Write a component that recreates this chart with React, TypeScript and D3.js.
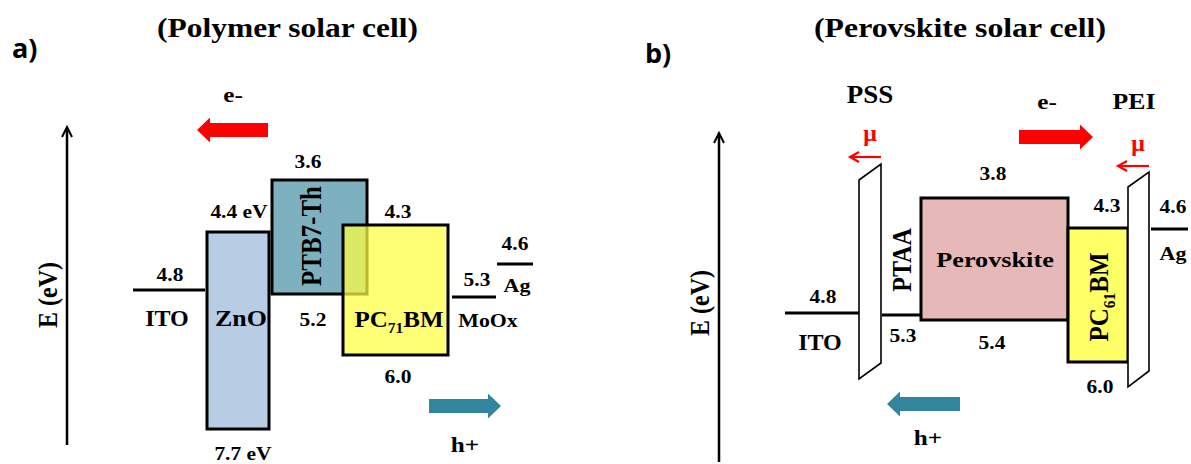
import * as d3 from "d3";

// ---- data: panel a (polymer solar cell) ----
const polyNames = ["ITO", "ZnO", "PTB7-Th", "PC71BM", "MoOx", "Ag"];
const polyUpper = [4.8, 4.4, 3.6, 4.3, 5.3, 4.6];
const polyLower = [NaN, 7.7, 5.2, 6.0, NaN, NaN];
const polyUpperLabels = ["4.8", "4.4 eV", "3.6", "4.3", "5.3", "4.6"];
const polyLowerLabels = ["", "7.7 eV", "5.2", "6.0", "", ""];

// ---- data: panel b (perovskite solar cell) ----
const perovNames = ["ITO", "PTAA", "Perovskite", "PC61BM", "Ag"];
const perovUpper = [4.8, 5.3, 3.8, 4.3, 4.6];
const perovLower = [NaN, NaN, 5.4, 6.0, NaN];
const perovUpperLabels = ["4.8", "", "3.8", "4.3", "4.6"];
const perovLowerLabels = ["", "5.3", "5.4", "6.0", ""];
const interlayers = ["PSS", "PEI"];

const W = 1191;
const H = 464;
const SERIF = "'Liberation Serif', 'Times New Roman', serif";
const SANS = "'Open Sans', 'Noto Sans', sans-serif";
const RED = "#ff0000";
const TEAL = "#31859c";

// schematic (not to scale) energy axes
const yA = d3
  .scaleLinear()
  .domain([3.6, 4.3, 4.4, 4.6, 4.8, 5.2, 5.3, 6.0, 7.7])
  .range([180, 225, 232, 264, 290, 294, 297, 355, 429]);
const yB = d3
  .scaleLinear()
  .domain([3.8, 4.3, 4.6, 4.8, 5.3, 5.4, 6.0])
  .range([198, 228, 229, 313, 315, 320, 362]);

type Lay = {
  x0: number;
  x1: number;
  fill?: string;
  op?: number;
  upX: number;
  upDy: number;
  loX?: number;
  loDy?: number;
  nx: number;
  ny: number;
  ns: number;
  nsx?: number;
  rot?: boolean;
};

const polyLayout: Lay[] = [
  { x0: 133, x1: 205, upX: 170, upDy: -9, nx: 167, ny: 326, ns: 24 },
  { x0: 207, x1: 269, fill: "#b8cce4", upX: 239, upDy: -14, loX: 243, loDy: 31, nx: 241, ny: 326, ns: 24, nsx: 1.08 },
  { x0: 272, x1: 367, fill: "#7eb1c0", upX: 308, upDy: -12, loX: 313, loDy: 32, nx: 321, ny: 236, ns: 25, nsx: 1.15, rot: true },
  { x0: 343, x1: 448, fill: "#ffff40", op: 0.72, upX: 398, upDy: -7, loX: 398, loDy: 28, nx: 399, ny: 327, ns: 24, nsx: 1.04 },
  { x0: 452, x1: 496, upX: 477, upDy: -11, nx: 488, ny: 327, ns: 19, nsx: 1.15 },
  { x0: 497, x1: 533, upX: 515, upDy: -14, nx: 517, ny: 292, ns: 18, nsx: 1.22 },
];

const perovLayout: Lay[] = [
  { x0: 785, x1: 859, upX: 823, upDy: -10, nx: 820, ny: 350, ns: 24 },
  { x0: 882, x1: 922, upX: 0, upDy: 0, loX: 903, loDy: 27, nx: 911, ny: 260, ns: 24, nsx: 1.15, rot: true },
  { x0: 921, x1: 1068, fill: "#e6b9b8", upX: 993, upDy: -18, loX: 992, loDy: 29, nx: 995, ny: 267, ns: 21, nsx: 1.25 },
  { x0: 1068, x1: 1128, fill: "#ffff66", upX: 1107, upDy: -16, loX: 1100, loDy: 31, nx: 1108, ny: 297, ns: 25, nsx: 1.12, rot: true },
  { x0: 1151, x1: 1188, upX: 1173, upDy: -16, nx: 1173, ny: 260, ns: 18, nsx: 1.22 },
];

// interlayer slabs (PSS, PEI): left/right x, top-left, top-right, bottom-left, bottom-right y
const slabs = [
  { xl: 859, xr: 881, tl: 180, tr: 164, bl: 379, br: 363, lx: 870, ly: 103, ls: 25, lsx: 1.08, mx: 870, my: 141, ax0: 881, ax1: 850, ay: 157 },
  { xl: 1128, xr: 1149, tl: 187, tr: 172, bl: 387, br: 371, lx: 1134, ly: 109, ls: 23, lsx: 1.12, mx: 1138, my: 151, ax0: 1149, ax1: 1118, ay: 166 },
];

const chargeArrows = [
  { tail: 268, tip: 197, cy: 130, color: RED, label: "e-", lx: 233, ly: 102 },
  { tail: 429, tip: 501, cy: 406, color: TEAL, label: "h+", lx: 465, ly: 452 },
  { tail: 1019, tip: 1093, cy: 137, color: RED, label: "e-", lx: 1047, ly: 109 },
  { tail: 960, tip: 887, cy: 404, color: TEAL, label: "h+", lx: 928, ly: 445 },
];

const axes = [
  { x: 67, y0: 445, y1: 127, lx: 57, ly: 295 },
  { x: 719, y0: 462, y1: 133, lx: 709, ly: 303 },
];

function Txt(props: {
  x: number;
  y: number;
  size: number;
  sx?: number;
  rot?: boolean;
  fill?: string;
  family?: string;
  anchor?: string;
  textLength?: number;
  children: any;
}) {
  const { x, y, size, sx = 1, rot, fill = "#000", family = SERIF, anchor = "middle", textLength } = props;
  const tf = rot
    ? `translate(${x},${y}) rotate(-90) scale(1,${sx})`
    : `translate(${x},${y}) scale(${sx},1)`;
  return (
    <text
      transform={tf}
      fontFamily={family}
      fontWeight="bold"
      fontSize={size}
      fill={fill}
      textAnchor={anchor}
      textLength={textLength}
      lengthAdjust={textLength ? "spacingAndGlyphs" : undefined}
    >
      {props.children}
    </text>
  );
}

function nameContent(name: string, size: number) {
  const m = name.match(/^PC(\d+)BM$/);
  if (!m) return name;
  return (
    <>
      PC
      <tspan fontSize={size * 0.62} dy={6}>
        {m[1]}
      </tspan>
      <tspan dy={-6}>BM</tspan>
    </>
  );
}

function blockArrow(tail: number, tip: number, cy: number) {
  const dir = Math.sign(tip - tail);
  const neck = tip - dir * 13;
  const h = 7;
  const hh = 12.5;
  const p = d3.path();
  p.moveTo(tail, cy - h);
  p.lineTo(neck, cy - h);
  p.lineTo(neck, cy - hh);
  p.lineTo(tip, cy);
  p.lineTo(neck, cy + hh);
  p.lineTo(neck, cy + h);
  p.lineTo(tail, cy + h);
  p.closePath();
  return p.toString();
}

function Panel({ names, upper, lower, upLabels, loLabels, layout, y }: any) {
  const shapes = names.map((name: string, i: number) => {
    const L: Lay = layout[i];
    const top = y(upper[i]);
    if (isNaN(lower[i])) {
      return (
        <line key={name} x1={L.x0} x2={L.x1} y1={top} y2={top} stroke="#000" strokeWidth={3} />
      );
    }
    const bot = y(lower[i]);
    return (
      <rect
        key={name}
        x={L.x0}
        y={top}
        width={L.x1 - L.x0}
        height={bot - top}
        fill={L.fill}
        fillOpacity={L.op ?? 1}
        stroke="#000"
        strokeWidth={3}
      />
    );
  });
  const labels = names.map((name: string, i: number) => {
    const L: Lay = layout[i];
    const top = y(upper[i]);
    const bot = isNaN(lower[i]) ? top : y(lower[i]);
    return (
      <g key={name + "-lab"}>
        {upLabels[i] && (
          <Txt x={L.upX} y={top + L.upDy} size={19} sx={1.13}>
            {upLabels[i]}
          </Txt>
        )}
        {loLabels[i] && (
          <Txt x={L.loX!} y={bot + L.loDy!} size={19} sx={1.13}>
            {loLabels[i]}
          </Txt>
        )}
        <Txt x={L.nx} y={L.ny} size={L.ns} sx={L.nsx ?? 1} rot={L.rot}>
          {nameContent(name, L.ns)}
        </Txt>
      </g>
    );
  });
  return (
    <g>
      {shapes}
      {labels}
    </g>
  );
}

export default function App() {
  return (
    <svg
      width={W}
      height={H}
      viewBox={`0 0 ${W} ${H}`}
      style={{ position: "absolute", left: 0, top: 0, background: "#fff" }}
    >
      <rect width={W} height={H} fill="#fff" />

      {/* panel letters and titles */}
      <Txt x={12} y={58} size={27} family={SANS} anchor="start">
        a)
      </Txt>
      <Txt x={645} y={63} size={27} family={SANS} anchor="start">
        b)
      </Txt>
      <Txt x={287.5} y={37} size={27} textLength={261}>
        (Polymer solar cell)
      </Txt>
      <Txt x={960} y={37} size={27} textLength={292}>
        (Perovskite solar cell)
      </Txt>

      {/* energy axes */}
      {axes.map((a, i) => (
        <g key={"ax" + i}>
          <line x1={a.x} x2={a.x} y1={a.y0} y2={a.y1 + 1} stroke="#000" strokeWidth={2.5} />
          <polyline
            points={`${a.x - 5},${a.y1 + 10} ${a.x},${a.y1} ${a.x + 5},${a.y1 + 10}`}
            fill="none"
            stroke="#000"
            strokeWidth={2}
          />
          <Txt x={a.lx} y={a.ly} size={24} sx={1.1} rot>
            E (eV)
          </Txt>
        </g>
      ))}

      <Panel
        names={polyNames}
        upper={polyUpper}
        lower={polyLower}
        upLabels={polyUpperLabels}
        loLabels={polyLowerLabels}
        layout={polyLayout}
        y={yA}
      />
      <Panel
        names={perovNames}
        upper={perovUpper}
        lower={perovLower}
        upLabels={perovUpperLabels}
        loLabels={perovLowerLabels}
        layout={perovLayout}
        y={yB}
      />

      {/* PSS / PEI interlayers with dipole arrows */}
      {interlayers.map((name, i) => {
        const s = slabs[i];
        const pts = `${s.xl},${s.tl} ${s.xr},${s.tr} ${s.xr},${s.br} ${s.xl},${s.bl}`;
        return (
          <g key={name}>
            <polygon points={pts} fill="#fff" stroke="#000" strokeWidth={1.6} />
            <Txt x={s.lx} y={s.ly} size={s.ls} sx={s.lsx}>
              {name}
            </Txt>
            <Txt x={s.mx} y={s.my} size={24} fill={RED}>
              μ
            </Txt>
            <line x1={s.ax0} x2={s.ax1 + 1} y1={s.ay} y2={s.ay} stroke={RED} strokeWidth={2.2} />
            <polyline
              points={`${s.ax1 + 9},${s.ay - 5} ${s.ax1},${s.ay} ${s.ax1 + 9},${s.ay + 5}`}
              fill="none"
              stroke={RED}
              strokeWidth={2.2}
            />
          </g>
        );
      })}

      {/* carrier flow arrows */}
      {chargeArrows.map((a, i) => (
        <g key={"ca" + i}>
          <path d={blockArrow(a.tail, a.tip, a.cy)} fill={a.color} />
          <Txt x={a.lx} y={a.ly} size={21} sx={1.2}>
            {a.label}
          </Txt>
        </g>
      ))}
    </svg>
  );
}
